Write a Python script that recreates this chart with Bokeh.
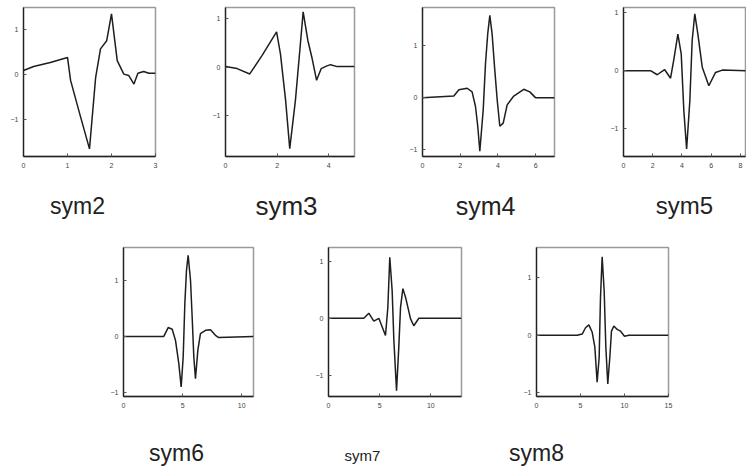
from bokeh.plotting import figure
from bokeh.layouts import column, row
from bokeh.models import Spacer, FixedTicker, Range1d, ColumnDataSource
from bokeh.core.properties import value
from bokeh.embed import file_html
from bokeh.resources import INLINE

# ---- data ----
names = ["sym2", "sym3", "sym4", "sym5", "sym6", "sym7", "sym8"]

sym2_x = [0, 0.23, 0.61, 1.0, 1.07, 1.3, 1.5, 1.64, 1.75, 1.89, 2.0, 2.13, 2.28, 2.39, 2.51, 2.6, 2.73, 2.85, 3.0]
sym2_y = [0.08, 0.17, 0.26, 0.37, -0.14, -0.96, -1.66, -0.07, 0.56, 0.74, 1.34, 0.3, 0.0, -0.03, -0.22, 0.02, 0.06, 0.02, 0.02]

sym3_x = [0, 0.45, 0.94, 1.42, 1.98, 2.13, 2.33, 2.49, 2.71, 2.88, 3.01, 3.19, 3.36, 3.53, 3.71, 3.91, 4.07, 4.33, 5.0]
sym3_y = [0.01, -0.03, -0.14, 0.24, 0.72, 0.27, -0.68, -1.67, -0.68, 0.34, 1.13, 0.55, 0.17, -0.27, -0.03, 0.02, 0.05, 0.01, 0.01]

sym4_x = [0, 1.66, 1.93, 2.37, 2.63, 2.81, 2.93, 3.04, 3.22, 3.34, 3.46, 3.57, 3.69, 3.82, 3.96, 4.1, 4.28, 4.49, 4.84, 5.37, 5.69, 5.99, 7.0]
sym4_y = [0.0, 0.03, 0.15, 0.18, 0.11, -0.17, -0.55, -1.03, -0.23, 0.65, 1.23, 1.58, 1.23, 0.59, -0.04, -0.55, -0.49, -0.14, 0.03, 0.16, 0.11, 0.0, 0.0]

sym5_x = [0, 1.85, 2.31, 2.81, 3.22, 3.45, 3.72, 3.95, 4.13, 4.32, 4.54, 4.7, 4.88, 5.09, 5.39, 5.84, 6.3, 6.76, 8.42]
sym5_y = [0.0, 0.0, -0.07, 0.02, -0.13, 0.2, 0.63, 0.29, -0.69, -1.35, -0.52, 0.52, 0.98, 0.63, 0.06, -0.26, -0.03, 0.01, 0.0]

sym6_x = [0, 3.41, 3.78, 4.12, 4.4, 4.68, 4.88, 5.05, 5.19, 5.33, 5.47, 5.67, 5.81, 5.95, 6.09, 6.29, 6.51, 6.94, 7.36, 7.78, 8.06, 11.0]
sym6_y = [0.0, 0.0, 0.16, 0.13, -0.07, -0.49, -0.91, -0.37, 0.59, 1.19, 1.46, 1.01, 0.35, -0.37, -0.76, -0.25, 0.05, 0.11, 0.12, 0.02, -0.02, 0.0]

sym7_x = [0, 3.45, 3.94, 4.43, 4.92, 5.57, 5.8, 5.99, 6.22, 6.39, 6.65, 6.87, 7.04, 7.27, 7.53, 8.02, 8.34, 8.83, 13.0]
sym7_y = [0.0, 0.0, 0.09, -0.05, 0.0, -0.3, 0.19, 1.07, 0.49, -0.39, -1.27, -0.51, 0.19, 0.52, 0.37, -0.01, -0.13, 0.0, 0.0]

sym8_x = [0, 4.62, 5.19, 5.57, 5.95, 6.33, 6.63, 6.89, 7.12, 7.27, 7.46, 7.69, 7.88, 8.1, 8.33, 8.52, 8.79, 9.17, 9.55, 10.0, 10.49, 15.0]
sym8_y = [0.0, 0.0, 0.02, 0.13, 0.18, 0.05, -0.21, -0.82, -0.39, 0.65, 1.37, 0.77, -0.21, -0.85, -0.39, 0.07, 0.16, 0.1, 0.07, -0.02, 0.0, 0.0]

x_ticks = [[0, 1, 2, 3], [0, 2, 4], [0, 2, 4, 6], [0, 2, 4, 6, 8], [0, 5, 10], [0, 5, 10], [0, 5, 10, 15]]
y_ticks = [-1, 0, 1]

x_ranges = [(0, 3), (0, 5), (0, 7), (0, 8.35), (0, 11), (0, 13), (0, 15)]
y_ranges = [(-1.83, 1.48), (-1.83, 1.22), (-1.13, 1.73), (-1.48, 1.09), (-1.08, 1.6), (-1.37, 1.24), (-1.07, 1.53)]

series = [(sym2_x, sym2_y), (sym3_x, sym3_y), (sym4_x, sym4_y), (sym5_x, sym5_y),
          (sym6_x, sym6_y), (sym7_x, sym7_y), (sym8_x, sym8_y)]

# ---- layout / style ----
# (width, height, left, right, top, bottom)
cells = [
    (190, 175, 23, 35, 7, 19),
    (200, 175, 35, 36, 7, 19),
    (200, 175, 32, 36, 7, 19),
    (156, 175, 33, 1, 7, 19),
    (200, 188, 33, 37, 22, 17),
    (210, 188, 38, 39, 22, 17),
    (200, 188, 36, 32, 22, 17),
]
# caption strips: (height, [(x centre px, y px from strip bottom, font size)])
strip1 = (50, [(77, 20, "23px"), (286, 20, "26px"), (485, 20, "25px"), (684, 20, "24px")])
strip2 = (54, [(176, 15, "23px"), (362, 12, "15px"), (536, 15, "23px")])


def make(i):
    w, h, l, r, t, b = cells[i]
    xs, ys = series[i]
    p = figure(width=w, height=h, x_range=Range1d(*x_ranges[i]), y_range=Range1d(*y_ranges[i]),
               output_backend="svg", toolbar_location=None,
               min_border_left=l, min_border_right=r, min_border_top=t, min_border_bottom=b)
    p.xgrid.visible = False
    p.ygrid.visible = False
    p.line(xs, ys, line_color="#1e1e1e", line_width=1.5)
    p.xaxis.ticker = FixedTicker(ticks=x_ticks[i])
    p.yaxis.ticker = FixedTicker(ticks=y_ticks)
    for ax in (p.xaxis, p.yaxis):
        ax.major_tick_in = 3
        ax.major_tick_out = 0
        ax.minor_tick_line_color = None
        ax.axis_line_color = "#222222"
        ax.axis_line_width = 1.3
        ax.major_tick_line_color = "#555555"
        ax.major_label_text_font = "Liberation Sans"
        ax.major_label_text_font_size = "7px"
        ax.major_label_text_color = "#444444"
    p.xaxis.major_label_standoff = 6
    p.yaxis.major_label_standoff = 5
    p.outline_line_color = "#9a9a9a"
    p.outline_line_width = 1.5
    return p


def caption_strip(strip, labels):
    h, items = strip
    src = ColumnDataSource(dict(x=[it[0] for it in items], y=[it[1] for it in items],
                                text=labels, size=[it[2] for it in items]))
    p = figure(width=746, height=h, x_range=Range1d(0, 746), y_range=Range1d(0, h),
               x_axis_type=None, y_axis_type=None, output_backend="svg", toolbar_location=None,
               min_border_left=0, min_border_right=0, min_border_top=0, min_border_bottom=0)
    p.grid.visible = False
    p.outline_line_color = None
    p.text(x="x", y="y", text="text", source=src, text_font=value("Liberation Sans"),
           text_font_size="size", text_color="#222222", text_align="center",
           text_baseline="middle")
    return p


figs = [make(i) for i in range(7)]
cap1 = caption_strip(strip1, names[:4])
cap2 = caption_strip(strip2, names[4:])
layout = column(row(*figs[:4]), cap1, row(Spacer(width=90, height=188), *figs[4:]), cap2)

open("out.html", "w").write(file_html(layout, INLINE))
